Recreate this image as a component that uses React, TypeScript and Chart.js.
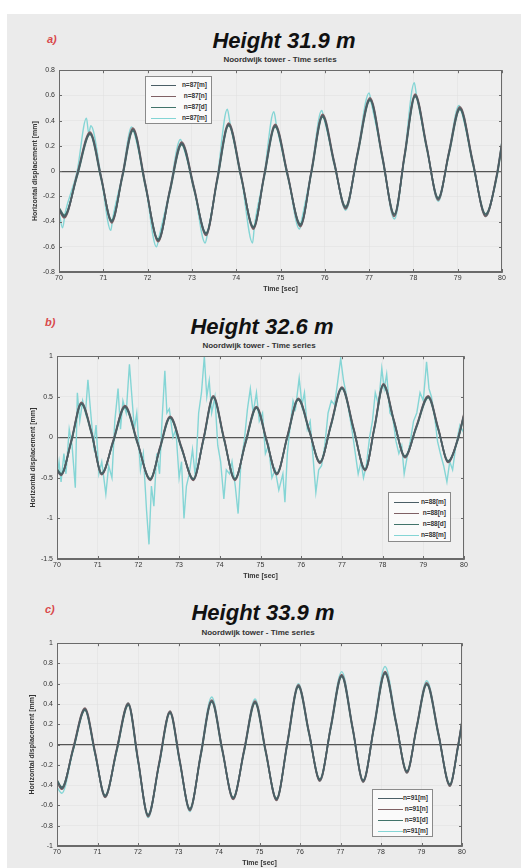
import { useEffect, useRef } from 'react';
import { Chart, registerables } from 'chart.js';

Chart.register(...registerables);

// ---------- Panel a (Height 31.9 m) ----------
const timeA = [70.0, 70.12, 70.41, 70.70, 70.95, 71.19, 71.43, 71.67, 71.95, 72.24, 72.5, 72.77, 73.05, 73.32, 73.57, 73.83, 74.11, 74.39, 74.63, 74.88, 75.16, 75.45, 75.7, 75.95, 76.21, 76.47, 76.74, 77.02, 77.3, 77.57, 77.8, 78.04, 78.3, 78.56, 78.8, 79.05, 79.34, 79.63, 79.88, 80.0];
const aBlue = [-0.30, -0.36, -0.03, 0.30, -0.05, -0.40, -0.04, 0.33, -0.11, -0.55, -0.16, 0.22, -0.14, -0.50, -0.07, 0.37, -0.04, -0.45, -0.04, 0.36, -0.03, -0.43, 0.00, 0.44, 0.07, -0.29, 0.14, 0.57, 0.11, -0.35, 0.12, 0.60, 0.19, -0.22, 0.14, 0.50, 0.07, -0.35, -0.04, 0.22];
const aRed = [-0.31, -0.37, -0.02, 0.31, -0.04, -0.41, -0.03, 0.34, -0.10, -0.56, -0.15, 0.23, -0.13, -0.51, -0.06, 0.38, -0.03, -0.46, -0.03, 0.37, -0.02, -0.44, 0.01, 0.45, 0.08, -0.30, 0.15, 0.58, 0.12, -0.36, 0.13, 0.61, 0.20, -0.23, 0.15, 0.51, 0.08, -0.36, -0.03, 0.23];
const aGreen = [-0.29, -0.35, -0.04, 0.29, -0.06, -0.39, -0.05, 0.32, -0.12, -0.54, -0.17, 0.21, -0.15, -0.49, -0.08, 0.36, -0.05, -0.44, -0.05, 0.35, -0.04, -0.42, -0.01, 0.43, 0.06, -0.28, 0.13, 0.56, 0.10, -0.34, 0.11, 0.59, 0.18, -0.21, 0.13, 0.49, 0.06, -0.34, -0.05, 0.21];
const aCyan: [number, number][] = [
  [70.0, -0.32], [70.08, -0.45], [70.14, -0.33], [70.41, 0.0], [70.62, 0.42], [70.67, 0.30], [70.72, 0.36], [70.95, -0.04],
  [71.17, -0.47], [71.21, -0.38], [71.43, -0.03], [71.64, 0.35], [71.7, 0.30], [71.95, -0.10], [72.2, -0.60], [72.26, -0.52],
  [72.5, -0.15], [72.74, 0.25], [72.8, 0.20], [73.05, -0.13], [73.3, -0.57], [73.35, -0.50], [73.57, -0.06], [73.8, 0.49],
  [73.86, 0.38], [74.11, -0.03], [74.37, -0.57], [74.41, -0.44], [74.63, -0.03], [74.85, 0.47], [74.91, 0.36], [75.16, -0.02],
  [75.43, -0.46], [75.47, -0.40], [75.7, 0.01], [75.93, 0.48], [75.98, 0.42], [76.21, 0.08], [76.47, -0.31], [76.74, 0.15],
  [77.0, 0.62], [77.05, 0.54], [77.3, 0.12], [77.57, -0.38], [77.8, 0.13], [78.02, 0.70], [78.07, 0.60], [78.3, 0.20],
  [78.56, -0.24], [78.8, 0.15], [79.03, 0.52], [79.08, 0.48], [79.34, 0.08], [79.63, -0.36], [79.88, -0.03], [80.0, 0.24],
];
const aLabels = ['n=87[m]', 'n=87[n]', 'n=87[d]', 'n=87[m]'];

// ---------- Panel b (Height 32.6 m) ----------
const timeB = [70.0, 70.1, 70.35, 70.6, 70.85, 71.1, 71.38, 71.67, 71.98, 72.29, 72.53, 72.78, 73.06, 73.35, 73.6, 73.84, 74.1, 74.37, 74.63, 74.9, 75.15, 75.4, 75.66, 75.93, 76.2, 76.46, 76.73, 77.0, 77.29, 77.57, 77.8, 78.02, 78.28, 78.55, 78.83, 79.12, 79.37, 79.61, 79.85, 80.0];
const bBlue = [-0.40, -0.46, -0.05, 0.42, 0.05, -0.45, -0.05, 0.38, -0.07, -0.52, -0.13, 0.25, -0.13, -0.52, -0.02, 0.50, -0.01, -0.52, -0.07, 0.37, -0.04, -0.45, 0.01, 0.47, 0.08, -0.31, 0.15, 0.61, 0.10, -0.40, 0.12, 0.65, 0.20, -0.24, 0.13, 0.50, 0.10, -0.30, -0.02, 0.28];
const bRed = [-0.41, -0.47, -0.04, 0.43, 0.06, -0.46, -0.04, 0.39, -0.06, -0.53, -0.12, 0.26, -0.12, -0.53, -0.01, 0.51, 0.0, -0.53, -0.06, 0.38, -0.03, -0.46, 0.02, 0.48, 0.09, -0.32, 0.16, 0.62, 0.11, -0.41, 0.13, 0.66, 0.21, -0.25, 0.14, 0.51, 0.11, -0.31, -0.01, 0.29];
const bGreen = [-0.39, -0.45, -0.06, 0.41, 0.04, -0.44, -0.06, 0.37, -0.08, -0.51, -0.14, 0.24, -0.14, -0.51, -0.03, 0.49, -0.02, -0.51, -0.08, 0.36, -0.05, -0.44, 0.0, 0.46, 0.07, -0.30, 0.14, 0.60, 0.09, -0.39, 0.11, 0.64, 0.19, -0.23, 0.12, 0.49, 0.09, -0.29, -0.03, 0.27];
const bCyan: [number, number][] = [
  [70.0, -0.5], [70.05, -0.3], [70.1, -0.55], [70.17, -0.2], [70.22, -0.45], [70.3, 0.1], [70.37, -0.1], [70.45, -0.62],
  [70.5, 0.55], [70.56, 0.2], [70.63, 0.45], [70.7, 0.3], [70.76, 0.71], [70.82, 0.35], [70.9, -0.1], [70.96, 0.15],
  [71.03, -0.45], [71.1, -0.3], [71.2, -0.7], [71.27, -0.35], [71.35, -0.5], [71.42, 0.2], [71.5, 0.6], [71.56, 0.1],
  [71.62, 0.45], [71.7, 0.3], [71.78, 0.9], [71.84, 0.5], [71.9, 0.1], [71.96, 0.3], [72.05, -0.4], [72.12, -0.2],
  [72.2, -0.9], [72.26, -1.32], [72.32, -0.6], [72.38, -0.85], [72.45, -0.2], [72.52, -0.45], [72.58, 0.2], [72.65, 0.82],
  [72.7, 0.3], [72.76, 0.35], [72.85, 0.0], [72.92, 0.1], [73.0, -0.5], [73.06, -0.3], [73.12, -1.0], [73.18, -0.6],
  [73.25, -0.45], [73.33, -0.15], [73.4, -0.5], [73.48, 0.3], [73.55, 0.55], [73.62, 1.0], [73.68, 0.5], [73.74, 0.7],
  [73.8, 0.3], [73.88, 0.5], [73.95, -0.1], [74.02, -0.3], [74.1, -0.76], [74.16, -0.4], [74.24, -0.45], [74.3, -0.3],
  [74.38, -0.6], [74.45, -0.94], [74.52, -0.3], [74.6, -0.05], [74.68, 0.35], [74.75, 0.6], [74.82, 0.3], [74.9, 0.55],
  [74.97, 0.2], [75.05, 0.3], [75.12, -0.2], [75.2, -0.1], [75.28, -0.5], [75.36, -0.4], [75.45, -0.65], [75.55, -0.45],
  [75.6, -0.8], [75.66, -0.2], [75.72, 0.1], [75.8, 0.45], [75.86, 0.35], [75.95, 0.73], [76.02, 0.4], [76.08, 0.55],
  [76.15, 0.1], [76.22, 0.2], [76.3, -0.3], [76.36, -0.68], [76.43, -0.4], [76.5, -0.35], [76.58, -0.1], [76.66, 0.3],
  [76.74, 0.45], [76.82, 0.4], [76.9, 0.7], [76.97, 0.97], [77.04, 0.7], [77.1, 0.55], [77.18, 0.3], [77.26, 0.05],
  [77.33, -0.2], [77.4, -0.45], [77.47, -0.3], [77.53, -0.5], [77.6, -0.35], [77.68, 0.0], [77.75, 0.2], [77.82, 0.55],
  [77.9, 0.4], [77.98, 0.85], [78.04, 0.6], [78.1, 0.78], [78.18, 0.3], [78.25, 0.25], [78.33, -0.05], [78.4, -0.2],
  [78.47, -0.1], [78.53, -0.45], [78.6, -0.25], [78.68, -0.05], [78.76, 0.2], [78.84, 0.3], [78.92, 0.55], [79.0, 0.45],
  [79.08, 0.93], [79.14, 0.6], [79.2, 0.5], [79.28, 0.25], [79.35, -0.05], [79.42, -0.2], [79.5, -0.35], [79.58, -0.55],
  [79.65, -0.3], [79.72, -0.4], [79.8, -0.1], [79.9, 0.15], [80.0, 0.05],
];
const bLabels = ['n=88[m]', 'n=88[n]', 'n=88[d]', 'n=88[m]'];

// ---------- Panel c (Height 33.9 m) ----------
const timeC = [70.0, 70.12, 70.4, 70.69, 70.94, 71.19, 71.47, 71.76, 72.0, 72.25, 72.52, 72.79, 73.03, 73.28, 73.55, 73.82, 74.08, 74.35, 74.62, 74.89, 75.15, 75.42, 75.69, 75.96, 76.22, 76.49, 76.76, 77.03, 77.3, 77.56, 77.83, 78.1, 78.37, 78.64, 78.88, 79.13, 79.42, 79.7, 79.9, 80.0];
const cBlue = [-0.36, -0.43, -0.04, 0.35, -0.08, -0.51, -0.06, 0.40, -0.15, -0.70, -0.19, 0.32, -0.16, -0.64, -0.10, 0.43, -0.05, -0.53, -0.06, 0.42, -0.06, -0.54, 0.02, 0.58, 0.12, -0.35, 0.17, 0.68, 0.16, -0.36, 0.18, 0.71, 0.22, -0.27, 0.17, 0.60, 0.10, -0.40, -0.02, 0.22];
const cRed = [-0.37, -0.44, -0.03, 0.36, -0.07, -0.52, -0.05, 0.41, -0.14, -0.71, -0.18, 0.33, -0.15, -0.65, -0.09, 0.44, -0.04, -0.54, -0.05, 0.43, -0.05, -0.55, 0.03, 0.59, 0.13, -0.36, 0.18, 0.69, 0.17, -0.37, 0.19, 0.72, 0.23, -0.28, 0.18, 0.61, 0.11, -0.41, -0.01, 0.23];
const cGreen = [-0.35, -0.42, -0.05, 0.34, -0.09, -0.50, -0.07, 0.39, -0.16, -0.69, -0.20, 0.31, -0.17, -0.63, -0.11, 0.42, -0.06, -0.52, -0.07, 0.41, -0.07, -0.53, 0.01, 0.57, 0.11, -0.34, 0.16, 0.67, 0.15, -0.35, 0.17, 0.70, 0.21, -0.26, 0.16, 0.59, 0.09, -0.39, -0.03, 0.21];
const cCyan = [-0.42, -0.48, -0.05, 0.34, -0.09, -0.52, -0.07, 0.41, -0.16, -0.72, -0.20, 0.33, -0.17, -0.66, -0.08, 0.47, -0.04, -0.53, -0.05, 0.45, -0.06, -0.55, 0.03, 0.60, 0.13, -0.36, 0.19, 0.72, 0.17, -0.37, 0.20, 0.77, 0.24, -0.28, 0.18, 0.63, 0.11, -0.41, -0.02, 0.24];
const cLabels = ['n=91[m]', 'n=91[n]', 'n=91[d]', 'n=91[m]'];

const titles = ['Height 31.9 m', 'Height 32.6 m', 'Height 33.9 m'];
const letters = ['a)', 'b)', 'c)'];
const subtitle = 'Noordwijk tower - Time series';
const xTitle = 'Time [sec]';
const yTitle = 'Horizontal displacement [mm]';
const xRange = [70, 80];
const yRanges = [[-0.8, 0.8, 0.2], [-1.5, 1, 0.5], [-1, 1, 0.2]];

const COLORS = { blue: '#4a5e66', red: '#7f6064', green: '#41736a', cyan: '#84d5d5' };

type Pt = { x: number; y: number };
const zip = (t: number[], v: number[]): Pt[] => t.map((x, i) => ({ x, y: v[i] }));
const pairs = (p: [number, number][]): Pt[] => p.map(([x, y]) => ({ x, y }));

type Series = { label: string; color: string; data: Pt[]; width: number; smooth: boolean };
type PanelCfg = {
  idx: number;
  series: Series[];
  canvasTop: number;
  canvasH: number;
  padRight: number;
  yAxisW: number;
  xAxisH: number;
  yTitlePad: number;
  xTitlePad: number;
  titleX: number;
  titleTop: number;
  subX: number;
  subY: number;
  letterX: number;
  letterY: number;
  legend: { x: number; y: number; w: number; h: number; top: number };
};

const mkSeries = (labels: string[], b: Pt[], r: Pt[], g: Pt[], c: Pt[], cyanSmooth: boolean): Series[] => [
  { label: labels[0], color: COLORS.blue, data: b, width: 1.7, smooth: true },
  { label: labels[1], color: COLORS.red, data: r, width: 1.7, smooth: true },
  { label: labels[2], color: COLORS.green, data: g, width: 1.7, smooth: true },
  { label: labels[3], color: COLORS.cyan, data: c, width: 1.4, smooth: cyanSmooth },
];

const panels: PanelCfg[] = [
  {
    idx: 0,
    series: mkSeries(aLabels, zip(timeA, aBlue), zip(timeA, aRed), zip(timeA, aGreen), pairs(aCyan), true),
    canvasTop: 62, canvasH: 234, padRight: 26, yAxisW: 59, xAxisH: 24, yTitlePad: 31, xTitlePad: 3,
    titleX: 284, titleTop: 30, subX: 280, subY: 56, letterX: 47, letterY: 34,
    legend: { x: 145, y: 76, w: 67, h: 48, top: 3 },
  },
  {
    idx: 1,
    series: mkSeries(bLabels, zip(timeB, bBlue), zip(timeB, bRed), zip(timeB, bGreen), pairs(bCyan), false),
    canvasTop: 348, canvasH: 235, padRight: 64, yAxisW: 57, xAxisH: 24, yTitlePad: 29, xTitlePad: 3,
    titleX: 262, titleTop: 316, subX: 259, subY: 342, letterX: 45, letterY: 317,
    legend: { x: 388, y: 492, w: 63, h: 50, top: 4 },
  },
  {
    idx: 2,
    series: mkSeries(cLabels, zip(timeC, cBlue), zip(timeC, cRed), zip(timeC, cGreen), zip(timeC, cCyan), true),
    canvasTop: 635, canvasH: 233, padRight: 66, yAxisW: 57, xAxisH: 22, yTitlePad: 28, xTitlePad: 1,
    titleX: 263, titleTop: 602, subX: 258, subY: 629, letterX: 45, letterY: 604,
    legend: { x: 372, y: 789, w: 61, h: 48, top: 3 },
  },
];

const FONT = '"Liberation Sans", Arial, sans-serif';

const framePlugin = {
  id: 'frame',
  beforeDraw(chart: any) {
    const { ctx, chartArea: a } = chart;
    ctx.save();
    ctx.fillStyle = '#efefef';
    ctx.fillRect(a.left, a.top, a.right - a.left, a.bottom - a.top);
    ctx.restore();
  },
  afterDraw(chart: any) {
    const { ctx, chartArea: a, scales } = chart;
    ctx.save();
    ctx.strokeStyle = '#6a6a6a';
    ctx.lineWidth = 1;
    ctx.strokeRect(Math.round(a.left) + 0.5, Math.round(a.top) + 0.5, Math.round(a.right - a.left) - 1, Math.round(a.bottom - a.top) - 1);
    ctx.beginPath();
    const tl = 3;
    scales.x.ticks.forEach((t: any) => {
      const px = Math.round(scales.x.getPixelForValue(t.value)) + 0.5;
      ctx.moveTo(px, a.top); ctx.lineTo(px, a.top + tl);
      ctx.moveTo(px, a.bottom); ctx.lineTo(px, a.bottom - tl);
    });
    scales.y.ticks.forEach((t: any) => {
      const py = Math.round(scales.y.getPixelForValue(t.value)) + 0.5;
      ctx.moveTo(a.left, py); ctx.lineTo(a.left + tl, py);
      ctx.moveTo(a.right, py); ctx.lineTo(a.right - tl, py);
    });
    ctx.stroke();
    ctx.restore();
  },
};

function Panel({ cfg }: { cfg: PanelCfg }) {
  const ref = useRef<HTMLCanvasElement>(null);
  useEffect(() => {
    const canvas = ref.current;
    if (!canvas) return;
    const [ymin, ymax, ystep] = yRanges[cfg.idx];
    const tickFont = { family: FONT, size: 7 };
    const titleFont = { family: FONT, size: 7, weight: 'bold' as const };
    const datasets = cfg.series.map((s) => ({
      label: s.label,
      data: s.data,
      borderColor: s.color,
      borderWidth: s.width,
      pointRadius: 0,
      fill: false,
      tension: s.smooth ? 0.4 : 0,
      cubicInterpolationMode: s.smooth ? ('monotone' as const) : ('default' as const),
    }));
    const chart = new Chart(canvas, {
      type: 'line',
      data: { datasets },
      options: {
        responsive: false,
        animation: false,
        events: [],
        layout: { padding: { left: 0, top: 6, right: cfg.padRight, bottom: 0 } },
        plugins: { legend: { display: false }, tooltip: { enabled: false } },
        scales: {
          x: {
            type: 'linear',
            min: xRange[0],
            max: xRange[1],
            ticks: { stepSize: 1, padding: 2, font: tickFont, color: '#333', maxRotation: 0, autoSkip: false },
            grid: { color: '#e0e0e0', lineWidth: 0.6, drawTicks: false },
            border: { display: true, color: '#6a6a6a' },
            title: { display: true, text: xTitle, font: titleFont, color: '#333', padding: { top: 0, bottom: cfg.xTitlePad } },
            afterFit: (s: any) => { s.height = cfg.xAxisH; },
          },
          y: {
            type: 'linear',
            min: ymin,
            max: ymax,
            ticks: {
              stepSize: ystep,
              padding: 4,
              font: tickFont,
              color: '#333',
              callback: (v: any) => String(Math.round(Number(v) * 10) / 10),
            },
            grid: {
              color: (c: any) => (c.tick && Math.abs(c.tick.value) < 1e-9 ? '#555555' : '#e0e0e0'),
              lineWidth: (c: any) => (c.tick && Math.abs(c.tick.value) < 1e-9 ? 1.2 : 0.6),
              drawTicks: false,
            },
            border: { display: true, color: '#6a6a6a' },
            title: { display: true, text: yTitle, font: titleFont, color: '#333', padding: { top: cfg.yTitlePad, bottom: 0 } },
            afterFit: (s: any) => { s.width = cfg.yAxisW; },
          },
        },
      } as any,
      plugins: [framePlugin],
    });
    return () => chart.destroy();
  }, [cfg]);

  const L = cfg.legend;
  return (
    <>
      <div style={{ position: 'absolute', left: cfg.letterX, top: cfg.letterY, fontFamily: FONT, fontSize: 11, lineHeight: '11px', fontWeight: 'bold', fontStyle: 'italic', color: '#d9484a' }}>
        {letters[cfg.idx]}
      </div>
      <div style={{ position: 'absolute', left: cfg.titleX - 120, width: 240, top: cfg.titleTop, textAlign: 'center', fontFamily: FONT, fontSize: 22, lineHeight: '22px', fontWeight: 'bold', fontStyle: 'italic', color: '#111' }}>
        {titles[cfg.idx]}
      </div>
      <div style={{ position: 'absolute', left: cfg.subX - 100, width: 200, top: cfg.subY, textAlign: 'center', fontFamily: FONT, fontSize: 8, lineHeight: '8px', fontWeight: 'bold', color: '#333' }}>
        {subtitle}
      </div>
      <canvas ref={ref} width={528} height={cfg.canvasH} style={{ position: 'absolute', left: 0, top: cfg.canvasTop }} />
      <div style={{ position: 'absolute', left: L.x, top: L.y, width: L.w, height: L.h, background: '#fafafa', border: '1px solid #8a8a8a', boxSizing: 'border-box' }}>
        {cfg.series.map((s, i) => (
          <div key={i} style={{ position: 'absolute', left: 0, right: 0, top: L.top + i * 11, height: 10, display: 'flex', alignItems: 'center' }}>
            <div style={{ marginLeft: 5, width: 25, height: 0, borderTop: `1px solid ${s.color}` }} />
            <span style={{ marginLeft: 'auto', marginRight: 4, fontFamily: FONT, fontSize: 6.5, lineHeight: '10px', fontWeight: 'bold', color: '#333' }}>{s.label}</span>
          </div>
        ))}
      </div>
    </>
  );
}

export default function App() {
  return (
    <div style={{ position: 'absolute', left: 0, top: 0, width: 528, height: 868, background: '#ffffff', overflow: 'hidden' }}>
      <div style={{ position: 'absolute', left: 7, top: 14, width: 514, height: 854, background: '#ebebeb' }} />
      {panels.map((p) => (
        <Panel key={p.idx} cfg={p} />
      ))}
    </div>
  );
}
